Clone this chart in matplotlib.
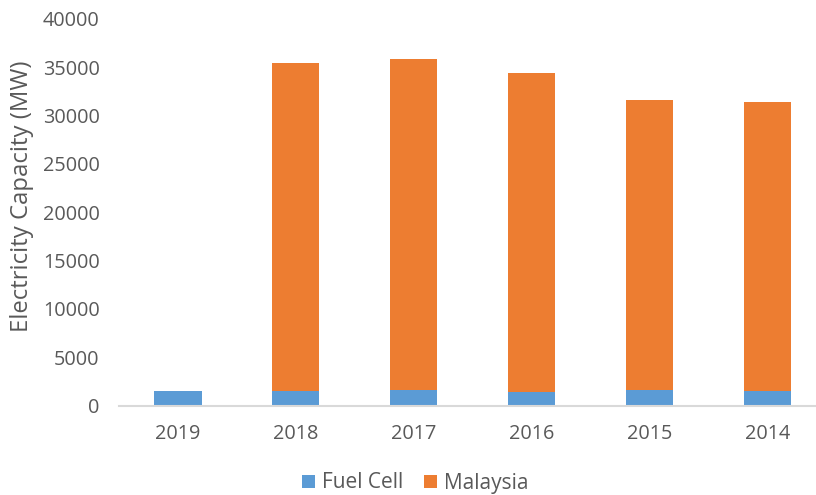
import matplotlib
matplotlib.use("Agg")
import matplotlib.pyplot as plt
import numpy as np

years = ["2019", "2018", "2017", "2016", "2015", "2014"]
fuel_cell = [1500, 1500, 1600, 1400, 1600, 1500]
malaysia = [0, 33900, 34280, 33030, 30040, 29870]
y_ticks = [0, 5000, 10000, 15000, 20000, 25000, 30000, 35000, 40000]

plt.rcParams['font.family'] = ['Open Sans', 'DejaVu Sans']

fig = plt.figure(figsize=(8.16, 4.95), dpi=100)
W, H = 816, 495
left, right = 119, 826.6
top, bottom = 18.9, 405.7
ax = fig.add_axes([left / W, (H - bottom) / H, (right - left) / W, (bottom - top) / H])

x = np.arange(len(years))
blue = "#5B9BD5"
orange = "#ED7D31"
ax.bar(x, fuel_cell, width=0.4, color=blue, label="Fuel Cell", zorder=2)
ax.bar(x, malaysia, width=0.4, bottom=fuel_cell, color=orange, label="Malaysia", zorder=2)

ax.set_xlim(-0.5, len(years) - 0.5)
ax.set_ylim(0, 40000)
ax.set_yticks(y_ticks)
ax.set_yticklabels([str(v) for v in y_ticks])
ax.set_xticks(x)
ax.set_xticklabels(years)

for s in ["top", "right", "left"]:
    ax.spines[s].set_visible(False)
ax.spines["bottom"].set_color("#D9D9D9")
ax.spines["bottom"].set_linewidth(1.5)
ax.spines["bottom"].set_zorder(3)

tc = "#595959"
ax.tick_params(axis="y", length=0, pad=14, labelsize=14.3, labelcolor=tc)
ax.tick_params(axis="x", length=0, pad=13, labelsize=14.3, labelcolor=tc)
ax.set_ylabel("Electricity Capacity (MW)", fontsize=17.2, color=tc, va="center")
ax.yaxis.set_label_coords((22 - left) / (right - left), (bottom - 196) / (bottom - top))

fig.legend(loc="center", bbox_to_anchor=(0.509, (H - 483) / H), ncol=2, frameon=False,
           fontsize=15, labelcolor=tc, handlelength=0.6, handleheight=0.6,
           handletextpad=0.35, columnspacing=1.0)

fig.savefig("out.png", dpi=100)
